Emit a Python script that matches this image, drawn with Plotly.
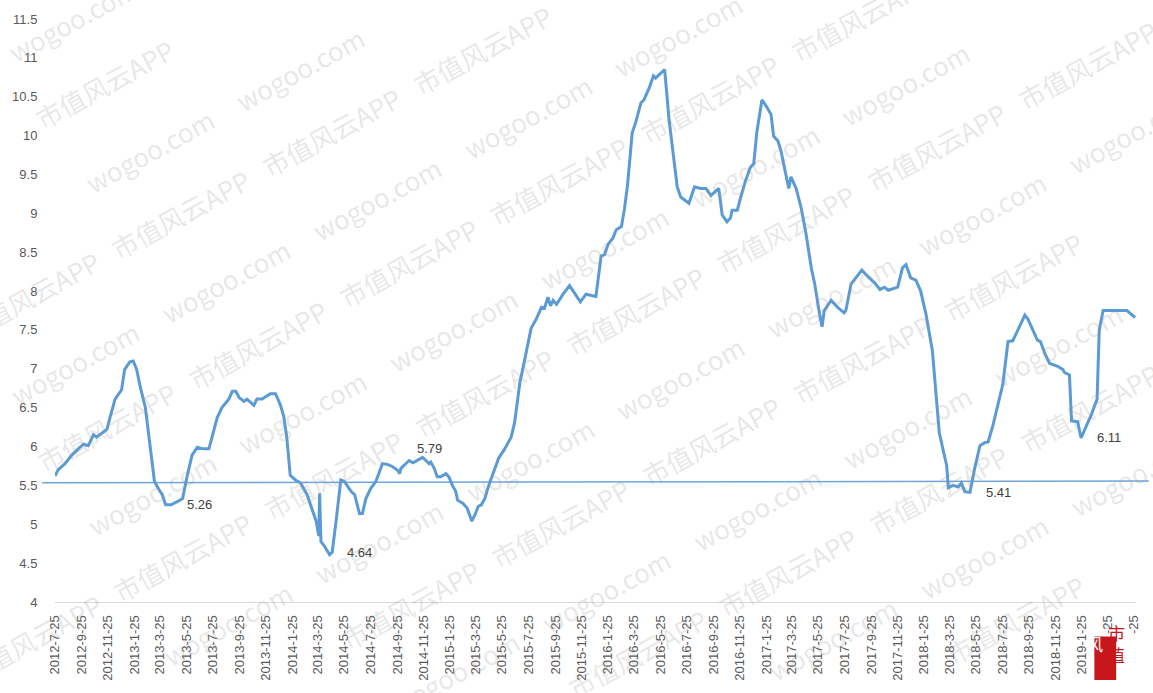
import plotly.graph_objects as go

# ---------------- data ----------------
dates = [
    "2012-07-25", "2012-08-01", "2012-08-17", "2012-09-02", "2012-09-17", "2012-09-29", "2012-10-10",
    "2012-10-22", "2012-10-29", "2012-11-06", "2012-11-22", "2012-11-29", "2012-12-11", "2012-12-26",
    "2013-01-02", "2013-01-14", "2013-01-22", "2013-01-30", "2013-02-07", "2013-02-19", "2013-02-26",
    "2013-03-05", "2013-03-12", "2013-03-23", "2013-03-30", "2013-04-07", "2013-04-19", "2013-05-04",
    "2013-05-16", "2013-05-27", "2013-06-07", "2013-06-19", "2013-07-01", "2013-07-16", "2013-07-23",
    "2013-08-04", "2013-08-15", "2013-08-31", "2013-09-08", "2013-09-16", "2013-09-24", "2013-10-05",
    "2013-10-12", "2013-10-20", "2013-10-28", "2013-11-04", "2013-11-16", "2013-12-05", "2013-12-17",
    "2013-12-28", "2014-01-05", "2014-01-12", "2014-01-20", "2014-02-01", "2014-02-13", "2014-02-28",
    "2014-03-11", "2014-03-21", "2014-03-27", "2014-03-29", "2014-04-01", "2014-04-09", "2014-04-21",
    "2014-04-27", "2014-05-06", "2014-05-17", "2014-05-25", "2014-06-10", "2014-06-18", "2014-06-25",
    "2014-06-29", "2014-07-06", "2014-07-14", "2014-07-25", "2014-08-06", "2014-08-14", "2014-08-21",
    "2014-09-02", "2014-09-14", "2014-09-26", "2014-09-30", "2014-10-03", "2014-10-11", "2014-10-22",
    "2014-10-31", "2014-11-10", "2014-11-22", "2014-11-30", "2014-12-07", "2014-12-11", "2014-12-19",
    "2014-12-26", "2015-01-03", "2015-01-15", "2015-01-22", "2015-01-30", "2015-02-07", "2015-02-11",
    "2015-02-23", "2015-03-05", "2015-03-16", "2015-03-23", "2015-03-31", "2015-04-07", "2015-04-15",
    "2015-04-24", "2015-05-05", "2015-05-17", "2015-05-30", "2015-06-08", "2015-06-15", "2015-06-23",
    "2015-07-05", "2015-07-16", "2015-07-31", "2015-08-12", "2015-08-24", "2015-08-31", "2015-09-08",
    "2015-09-14", "2015-09-20", "2015-09-28", "2015-10-13", "2015-10-28", "2015-11-08", "2015-11-22",
    "2015-12-05", "2015-12-17", "2015-12-28", "2016-01-09", "2016-01-17", "2016-01-25", "2016-02-05",
    "2016-02-13", "2016-02-25", "2016-03-03", "2016-03-10", "2016-03-21", "2016-03-29", "2016-04-10",
    "2016-04-17", "2016-04-29", "2016-05-09", "2016-05-14", "2016-05-26", "2016-06-04", "2016-06-14",
    "2016-06-26", "2016-07-03", "2016-07-11", "2016-07-30", "2016-08-12", "2016-08-26", "2016-09-07",
    "2016-09-19", "2016-10-07", "2016-10-15", "2016-10-26", "2016-11-03", "2016-11-07", "2016-11-19",
    "2016-11-27", "2016-12-08", "2016-12-19", "2016-12-27", "2017-01-03", "2017-01-15", "2017-01-27",
    "2017-02-05", "2017-02-11", "2017-02-21", "2017-02-28", "2017-03-09", "2017-03-18", "2017-03-23",
    "2017-04-04", "2017-04-16", "2017-04-27", "2017-05-09", "2017-05-17", "2017-05-28", "2017-06-03",
    "2017-06-08", "2017-06-24", "2017-07-09", "2017-07-24", "2017-07-28", "2017-08-09", "2017-08-20",
    "2017-09-03", "2017-09-16", "2017-10-02", "2017-10-15", "2017-10-25", "2017-11-03", "2017-11-25",
    "2017-12-06", "2017-12-14", "2017-12-25", "2018-01-06", "2018-01-17", "2018-01-29", "2018-02-13",
    "2018-02-21", "2018-03-01", "2018-03-11", "2018-03-18", "2018-03-22", "2018-04-02", "2018-04-14",
    "2018-04-21", "2018-04-29", "2018-05-11", "2018-05-22", "2018-06-03", "2018-06-14", "2018-06-22",
    "2018-07-03", "2018-07-15", "2018-07-26", "2018-08-07", "2018-08-18", "2018-08-30", "2018-09-15",
    "2018-09-22", "2018-10-04", "2018-10-14", "2018-10-21", "2018-10-31", "2018-11-11", "2018-11-30",
    "2018-12-12", "2018-12-16", "2018-12-27", "2019-01-01", "2019-01-15", "2019-01-23", "2019-01-31",
    "2019-02-15", "2019-03-01", "2019-03-06", "2019-03-15", "2019-05-09", "2019-05-28",
]
values = [
    5.62, 5.70, 5.78, 5.89, 5.97, 6.03, 6.01,
    6.15, 6.12, 6.15, 6.22, 6.37, 6.61, 6.73,
    6.99, 7.09, 7.10, 6.99, 6.77, 6.50, 6.18,
    5.93, 5.55, 5.44, 5.38, 5.25, 5.25, 5.29,
    5.33, 5.63, 5.89, 5.99, 5.97, 5.97, 6.12,
    6.37, 6.50, 6.61, 6.71, 6.71, 6.63, 6.58,
    6.61, 6.57, 6.53, 6.61, 6.61, 6.68, 6.68,
    6.54, 6.39, 6.12, 5.63, 5.57, 5.53, 5.38,
    5.21, 5.04, 4.85, 5.40, 4.78, 4.72, 4.61,
    4.64, 5.04, 5.57, 5.55, 5.42, 5.38, 5.23,
    5.14, 5.14, 5.33, 5.46, 5.55, 5.67, 5.78,
    5.77, 5.74, 5.69, 5.65, 5.72, 5.76, 5.82,
    5.79, 5.82, 5.86, 5.82, 5.78, 5.80, 5.72,
    5.61, 5.61, 5.65, 5.61, 5.50, 5.42, 5.31,
    5.27, 5.21, 5.04, 5.12, 5.23, 5.25, 5.33,
    5.50, 5.68, 5.85, 5.96, 6.05, 6.12, 6.31,
    6.82, 7.11, 7.52, 7.64, 7.79, 7.78, 7.92,
    7.81, 7.88, 7.83, 7.96, 8.07, 7.98, 7.86,
    7.96, 7.94, 7.93, 8.45, 8.47, 8.60, 8.68,
    8.79, 8.83, 9.06, 9.36, 10.04, 10.17, 10.42,
    10.46, 10.61, 10.77, 10.74, 10.80, 10.85, 10.21,
    9.61, 9.34, 9.21, 9.13, 9.34, 9.32, 9.32,
    9.23, 9.32, 8.98, 8.89, 8.94, 9.04, 9.04,
    9.21, 9.42, 9.59, 9.64, 10.04, 10.46, 10.36,
    10.27, 9.99, 9.93, 9.80, 9.55, 9.32, 9.47,
    9.32, 9.06, 8.73, 8.30, 8.09, 7.71, 7.54,
    7.75, 7.88, 7.79, 7.72, 7.75, 8.09, 8.17,
    8.27, 8.19, 8.11, 8.02, 8.05, 8.01, 8.05,
    8.30, 8.34, 8.17, 8.14, 8.00, 7.71, 7.24,
    6.73, 6.18, 5.93, 5.76, 5.47, 5.50, 5.48,
    5.53, 5.42, 5.41, 5.72, 6.01, 6.05, 6.06,
    6.27, 6.56, 6.80, 7.35, 7.36, 7.50, 7.69,
    7.64, 7.50, 7.37, 7.35, 7.20, 7.07, 7.03,
    6.99, 6.95, 6.92, 6.33, 6.32, 6.11, 6.21,
    6.40, 6.61, 7.50, 7.75, 7.75, 7.66,
]

# reference line (left end, right end)
ref_line = [5.535, 5.555]

# value labels
label_text = ["5.26", "4.64", "5.79", "5.41", "6.11"]
label_dates = ["2013-06-25", "2014-06-30", "2014-12-08", "2018-07-15", "2019-03-29"]
label_y = [5.26, 4.64, 5.98, 5.41, 6.11]

# x tick labels (every two months)
tick_dates = []
tick_text = []
for k in range(42):
    m = 6 + 2 * k  # months since 2012-01
    yr = 2012 + m // 12
    mo = m % 12 + 1
    tick_dates.append(f"{yr}-{mo:02d}-25")
    tick_text.append(f"{yr}-{mo}-25")

y_ticks = [4 + 0.5 * i for i in range(16)]

# ---------------- figure ----------------
W, H = 1153, 693
ML, MR, MT, MB = 50, 13, 15, 88
PW, PH = W - ML - MR, H - MT - MB

fig = go.Figure()
fig.add_trace(go.Scatter(
    x=dates, y=values, mode="lines",
    line=dict(color="#5B9BD5", width=3),
    hoverinfo="x+y", showlegend=False,
))

fig.add_shape(type="line", xref="paper", yref="y",
              x0=(37 - ML) / PW, x1=(W - ML) / PW,
              y0=ref_line[0], y1=ref_line[1],
              line=dict(color="#6FA5DA", width=1.5), layer="below")

annotations = []
for t, d, yv in zip(label_text, label_dates, label_y):
    annotations.append(dict(x=d, y=yv, xref="x", yref="y", text=t, showarrow=False,
                            font=dict(family="Liberation Sans, Arial", size=13, color="#404040"),
                            xanchor="center", yanchor="middle"))


def px2paper(X, Y):
    return (X - ML) / PW, (MT + PH - Y) / PH


# watermark tiling
wm_font = dict(family="Noto Sans CJK SC, Liberation Sans", size=26, color="rgba(150,150,150,0.24)")
for j in range(-4, 9):
    for i in range(-4, 12):
        X = 145 + i * 152 + j * 77
        Y = 148 - i * 83 + j * 132
        for dx, dy, txt in ((0, 0, "wogoo.com"), (32, 64, "市值风云APP")):
            XX, YY = X + dx, Y + dy
            if 10 < XX < W - 10 and 5 < YY < H - 5:
                xp, yp = px2paper(XX, YY)
                annotations.append(dict(x=xp, y=yp, xref="paper", yref="paper", text=txt,
                                        showarrow=False, textangle=-28.6, font=wm_font,
                                        xanchor="center", yanchor="middle"))

# logo bottom-right (white backing, red block, characters)
bx0, by0 = px2paper(1096, 688)
bx1, by1 = px2paper(1143, 637)
fig.add_shape(type="rect", xref="paper", yref="paper", x0=bx0, x1=bx1, y0=by0, y1=by1,
              fillcolor="white", line=dict(width=0), layer="above")
lx0, ly0 = px2paper(1098, 684)
lx1, ly1 = px2paper(1120, 640)
fig.add_shape(type="rect", xref="paper", yref="paper", x0=lx0, x1=lx1, y0=ly0, y1=ly1,
              fillcolor="#C8161D", line=dict(width=0), layer="above")
fx, fy = px2paper(1109, 662)
annotations.append(dict(x=fx, y=fy, xref="paper", yref="paper", text="风", showarrow=False,
                        font=dict(family="Noto Sans CJK SC", size=17, color="white")))
for ch, yy in (("市", 651), ("值", 673)):
    cx, cy = px2paper(1131, yy)
    annotations.append(dict(x=cx, y=cy, xref="paper", yref="paper", text=ch, showarrow=False,
                            font=dict(family="Noto Sans CJK SC", size=17, color="#C8161D")))

fig.update_layout(
    width=W, height=H,
    margin=dict(l=ML, r=MR, t=MT, b=MB),
    paper_bgcolor="white", plot_bgcolor="white",
    annotations=annotations,
    showlegend=False,
    xaxis=dict(
        type="date",
        range=["2012-07-25", "2019-05-30"],
        tickmode="array", tickvals=tick_dates, ticktext=tick_text,
        tickangle=-90,
        tickfont=dict(family="Liberation Sans, Arial", size=13, color="#595959"),
        showgrid=False, zeroline=False,
        showline=True, linecolor="#D9D9D9", linewidth=1,
        ticks="outside", ticklen=7, tickcolor="rgba(0,0,0,0)",
    ),
    yaxis=dict(
        range=[4, 11.5],
        tickmode="array", tickvals=y_ticks, ticktext=[f"{v:g}" for v in y_ticks],
        tickfont=dict(family="Liberation Sans, Arial", size=13, color="#595959"),
        showgrid=False, zeroline=False, showline=False,
        ticks="outside", ticklen=14, tickcolor="rgba(0,0,0,0)",
    ),
)

fig.write_html("out.html")
